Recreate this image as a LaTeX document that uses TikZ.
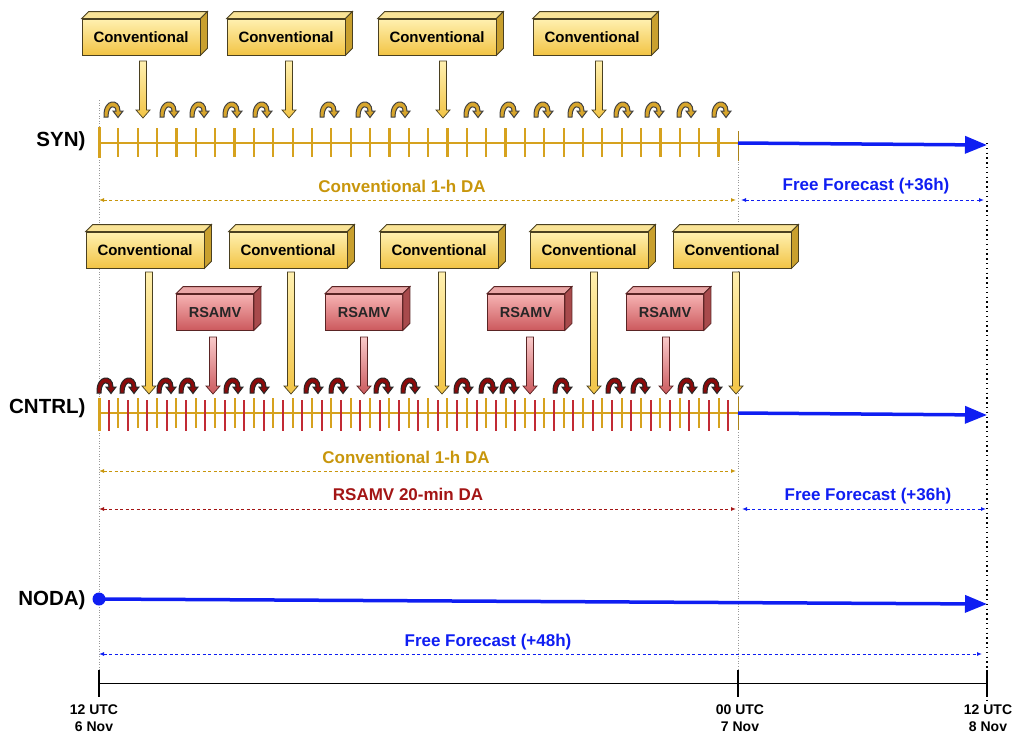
\documentclass[tikz,border=0pt]{standalone}
\usepackage{fontspec}
\setmainfont{Liberation Sans}
\usetikzlibrary{shapes,arrows.meta,positioning,calc}

\definecolor{convlight}{HTML}{FFF0B0}
\definecolor{convdark}{HTML}{F2C445}
\definecolor{convtopf}{HTML}{F9E396}
\definecolor{convside}{HTML}{C9A02E}
\definecolor{convedge}{HTML}{4A4020}
\definecolor{rsalight}{HTML}{F6B3B3}
\definecolor{rsadark}{HTML}{CC5A5E}
\definecolor{rsatopf}{HTML}{E9A6A6}
\definecolor{rsaside}{HTML}{A84A4C}
\definecolor{rsaedge}{HTML}{5A2424}
\definecolor{tickgold}{HTML}{D6A21E}
\definecolor{tickred}{HTML}{C22A34}
\definecolor{txtgold}{HTML}{C8960C}
\definecolor{txtred}{HTML}{A31515}
\definecolor{fblue}{HTML}{0F1EF2}
\definecolor{hopgold}{HTML}{D8A62C}
\definecolor{hopred}{HTML}{8A0A0A}

% top and side faces of a box node
\newcommand{\cubesides}[4]{%
  \filldraw[fill=#2, draw=#4, line width=0.8pt] (#1.north west) -- ++(7,-7) -- ($(#1.north east)+(7,-7)$) -- (#1.north east) -- cycle;
  \filldraw[fill=#3, draw=#4, line width=0.8pt] (#1.north east) -- ++(7,-7) -- ($(#1.south east)+(7,-7)$) -- (#1.south east) -- cycle;}

\begin{document}
\begin{tikzpicture}[
    x=1pt, y=-1pt,
    conv/.style={rectangle, draw=convedge, line width=0.8pt, top color=convlight, bottom color=convdark, minimum width=118pt, minimum height=36pt, inner sep=0pt, font=\bfseries\fontsize{15}{17}\selectfont},
    rsamv/.style={rectangle, draw=rsaedge, line width=0.8pt, top color=rsalight, bottom color=rsadark, minimum width=77pt, minimum height=36pt, inner sep=0pt, text=black!85, font=\bfseries\fontsize{14.5}{16}\selectfont},
    blockarr/.style={line width=0.7pt, to path={let \p1=(\tikztostart), \p2=(\tikztotarget) in (\x1-3.5pt,\y1) -- (\x1-3.5pt,\y2+8pt) -- (\x1-7pt,\y2+8pt) -- (\x1,\y2) -- (\x1+7pt,\y2+8pt) -- (\x1+3.5pt,\y2+8pt) -- (\x1+3.5pt,\y1) -- cycle}},
    convarr/.style={blockarr, draw=convedge, top color=convlight, bottom color=convdark},
    rsaarr/.style={blockarr, draw=rsaedge, top color=rsalight!70, bottom color=rsadark},
    hop/.pic={\filldraw[pic actions, line width=1pt] (-9,0) .. controls (-10,-19) and (7,-19) .. (7,-6) -- (10,-6) -- (5,0.5) -- (0,-6) -- (3,-6) .. controls (3,-12.5) and (-5,-12.5) .. (-5,0) -- cycle;},
    rowlabel/.style={anchor=east, font=\bfseries\fontsize{20.5}{22}\selectfont},
    spantext/.style={font=\bfseries\fontsize{17}{19}\selectfont},
    span/.style={line width=1pt, dash pattern=on 3pt off 2.5pt, {Latex[length=5pt,width=4pt]}-{Latex[length=5pt,width=4pt]}},
    fcst/.style={draw=fblue, line width=3.5pt, -{Triangle[length=22pt,width=17pt]}},
    guide/.style={gray!80, line width=0.8pt, dash pattern=on 1pt off 1.6pt},
    timelabel/.style={align=center, font=\bfseries\fontsize{14}{17}\selectfont}
]
\useasboundingbox (0,0) rectangle (1017,740);

% Timeline points
\coordinate (synS) at (99,143);
\coordinate (synE) at (738,143);
\coordinate (synF) at (987,145);
\coordinate (ctlS) at (99,413);
\coordinate (ctlE) at (738,413);
\coordinate (ctlF) at (987,415);
\coordinate (nodaS) at (99,599);
\coordinate (nodaF) at (987,604);

% Guide lines
\draw[guide] (99,100) -- (99,680);
\draw[guide] (738,146) -- (738,680);
\draw[black, line width=1.3pt, dash pattern=on 1.3pt off 3.5pt] (987,143) -- (987,700);

% Row labels
\node[rowlabel] (synlab) at (89,141) {SYN)};
\node[rowlabel] (ctllab) at (89,408) {CNTRL)};
\node[rowlabel] (nodalab) at (89,600) {NODA)};

% ---------------- SYN ----------------
\foreach \cx/\nm in {141/s1,286/s2,437/s3,592/s4} {
  \node[conv] (\nm) at (\cx,37) {Conventional};
  \cubesides{\nm}{convtopf}{convside}{convedge}
}
\foreach \ax/\nm in {143/a,289/b,443/c,599/d} {
  \coordinate (sa\nm) at (\ax,61);
  \coordinate (st\nm) at (\ax,118);
  \draw[convarr] (sa\nm) to (st\nm);
}
\foreach \hx in {113,169,199,232,262,329,365,400,473,509,543,577,623,654,686,721}
  \pic[fill=hopgold, draw=black!75] at (\hx,117) {hop};

\draw[tickgold, line width=1.5pt] (synS) -- (synE);
\draw[tickgold, line width=3pt] (99,127) -- (99,158);
\foreach \i in {1,...,32}
  \draw[tickgold, line width=2.2pt] ({99+19.36*\i},128) -- ({99+19.36*\i},157);
\draw[tickgold!80!black, line width=1pt] (738,131) -- (738,161);
\draw[fcst] (synE) -- (synF);

\node[spantext, text=txtgold] (synda) at (402,186) {Conventional 1-h DA};
\node[spantext, text=fblue] (synff) at (866,186) {Free Forecast (+36h)};
\draw[span, txtgold] (99,200) -- (736,200);
\draw[span, fblue] (741,200) -- (984,200);

% ---------------- CNTRL ----------------
\foreach \cx/\nm in {145/c1,288/c2,439/c3,589/c4,732/c5} {
  \node[conv] (\nm) at (\cx,250) {Conventional};
  \cubesides{\nm}{convtopf}{convside}{convedge}
}
\foreach \cx/\nm in {215/r1,364/r2,526/r3,665/r4} {
  \node[rsamv] (\nm) at (\cx,312) {RSAMV};
  \cubesides{\nm}{rsatopf}{rsaside}{rsaedge}
}
\foreach \ax/\nm in {149/a,291/b,442/c,594/d,736/e} {
  \coordinate (ca\nm) at (\ax,272);
  \coordinate (ct\nm) at (\ax,394);
  \draw[convarr] (ca\nm) to (ct\nm);
}
\foreach \ax/\nm in {213/a,364/b,530/c,666/d} {
  \coordinate (ra\nm) at (\ax,337);
  \coordinate (rt\nm) at (\ax,394);
  \draw[rsaarr] (ra\nm) to (rt\nm);
}
\foreach \hx in {106,129,166,188,233,259,313,338,383,410,463,488,509,562,615,640,687,712}
  \pic[fill=hopred, draw=black!85] at (\hx,393) {hop};

\draw[tickgold, line width=1.5pt] (ctlS) -- (ctlE);
\draw[tickgold, line width=3pt] (99,398) -- (99,431);
\foreach \i in {2,4,...,64}
  \draw[tickgold, line width=2pt] ({99+9.68*\i},398) -- ({99+9.68*\i},428);
\foreach \i in {1,3,...,65}
  \draw[tickred, line width=2pt] ({99+9.68*\i},400) -- ({99+9.68*\i},431);
\draw[tickgold!80!black, line width=1pt] (738,397) -- (738,430);
\draw[fcst] (ctlE) -- (ctlF);

\node[spantext, text=txtgold] (ctlda) at (406,457) {Conventional 1-h DA};
\draw[span, txtgold] (99,471) -- (736,471);
\node[spantext, text=txtred] (ctlrs) at (408,494) {RSAMV 20-min DA};
\draw[span, txtred] (99,509) -- (736,509);
\node[spantext, text=fblue] (ctlff) at (868,496) {Free Forecast (+36h)};
\draw[span, fblue] (742,509) -- (986,509);

% ---------------- NODA ----------------
\fill[fblue] (nodaS) circle (6.5);
\draw[fcst] (nodaS) -- (nodaF);
\node[spantext, text=fblue] (nodaff) at (488,642) {Free Forecast (+48h)};
\draw[span, fblue] (99,654) -- (982,654);

% Time axis
\coordinate (ax0) at (99,683);
\coordinate (ax1) at (738,683);
\coordinate (ax2) at (987,683);
\draw[black, line width=1pt] (ax0) -- (ax2);
\foreach \p in {ax0,ax1,ax2}
  \draw[black, line width=1.5pt] ($(\p)+(0,-13)$) -- ($(\p)+(0,14)$);
\node[timelabel] (t0) at (94,718) {12 UTC\\6 Nov};
\node[timelabel] (t1) at (740,718) {00 UTC\\7 Nov};
\node[timelabel] (t2) at (988,718) {12 UTC\\8 Nov};

\end{tikzpicture}
\end{document}
